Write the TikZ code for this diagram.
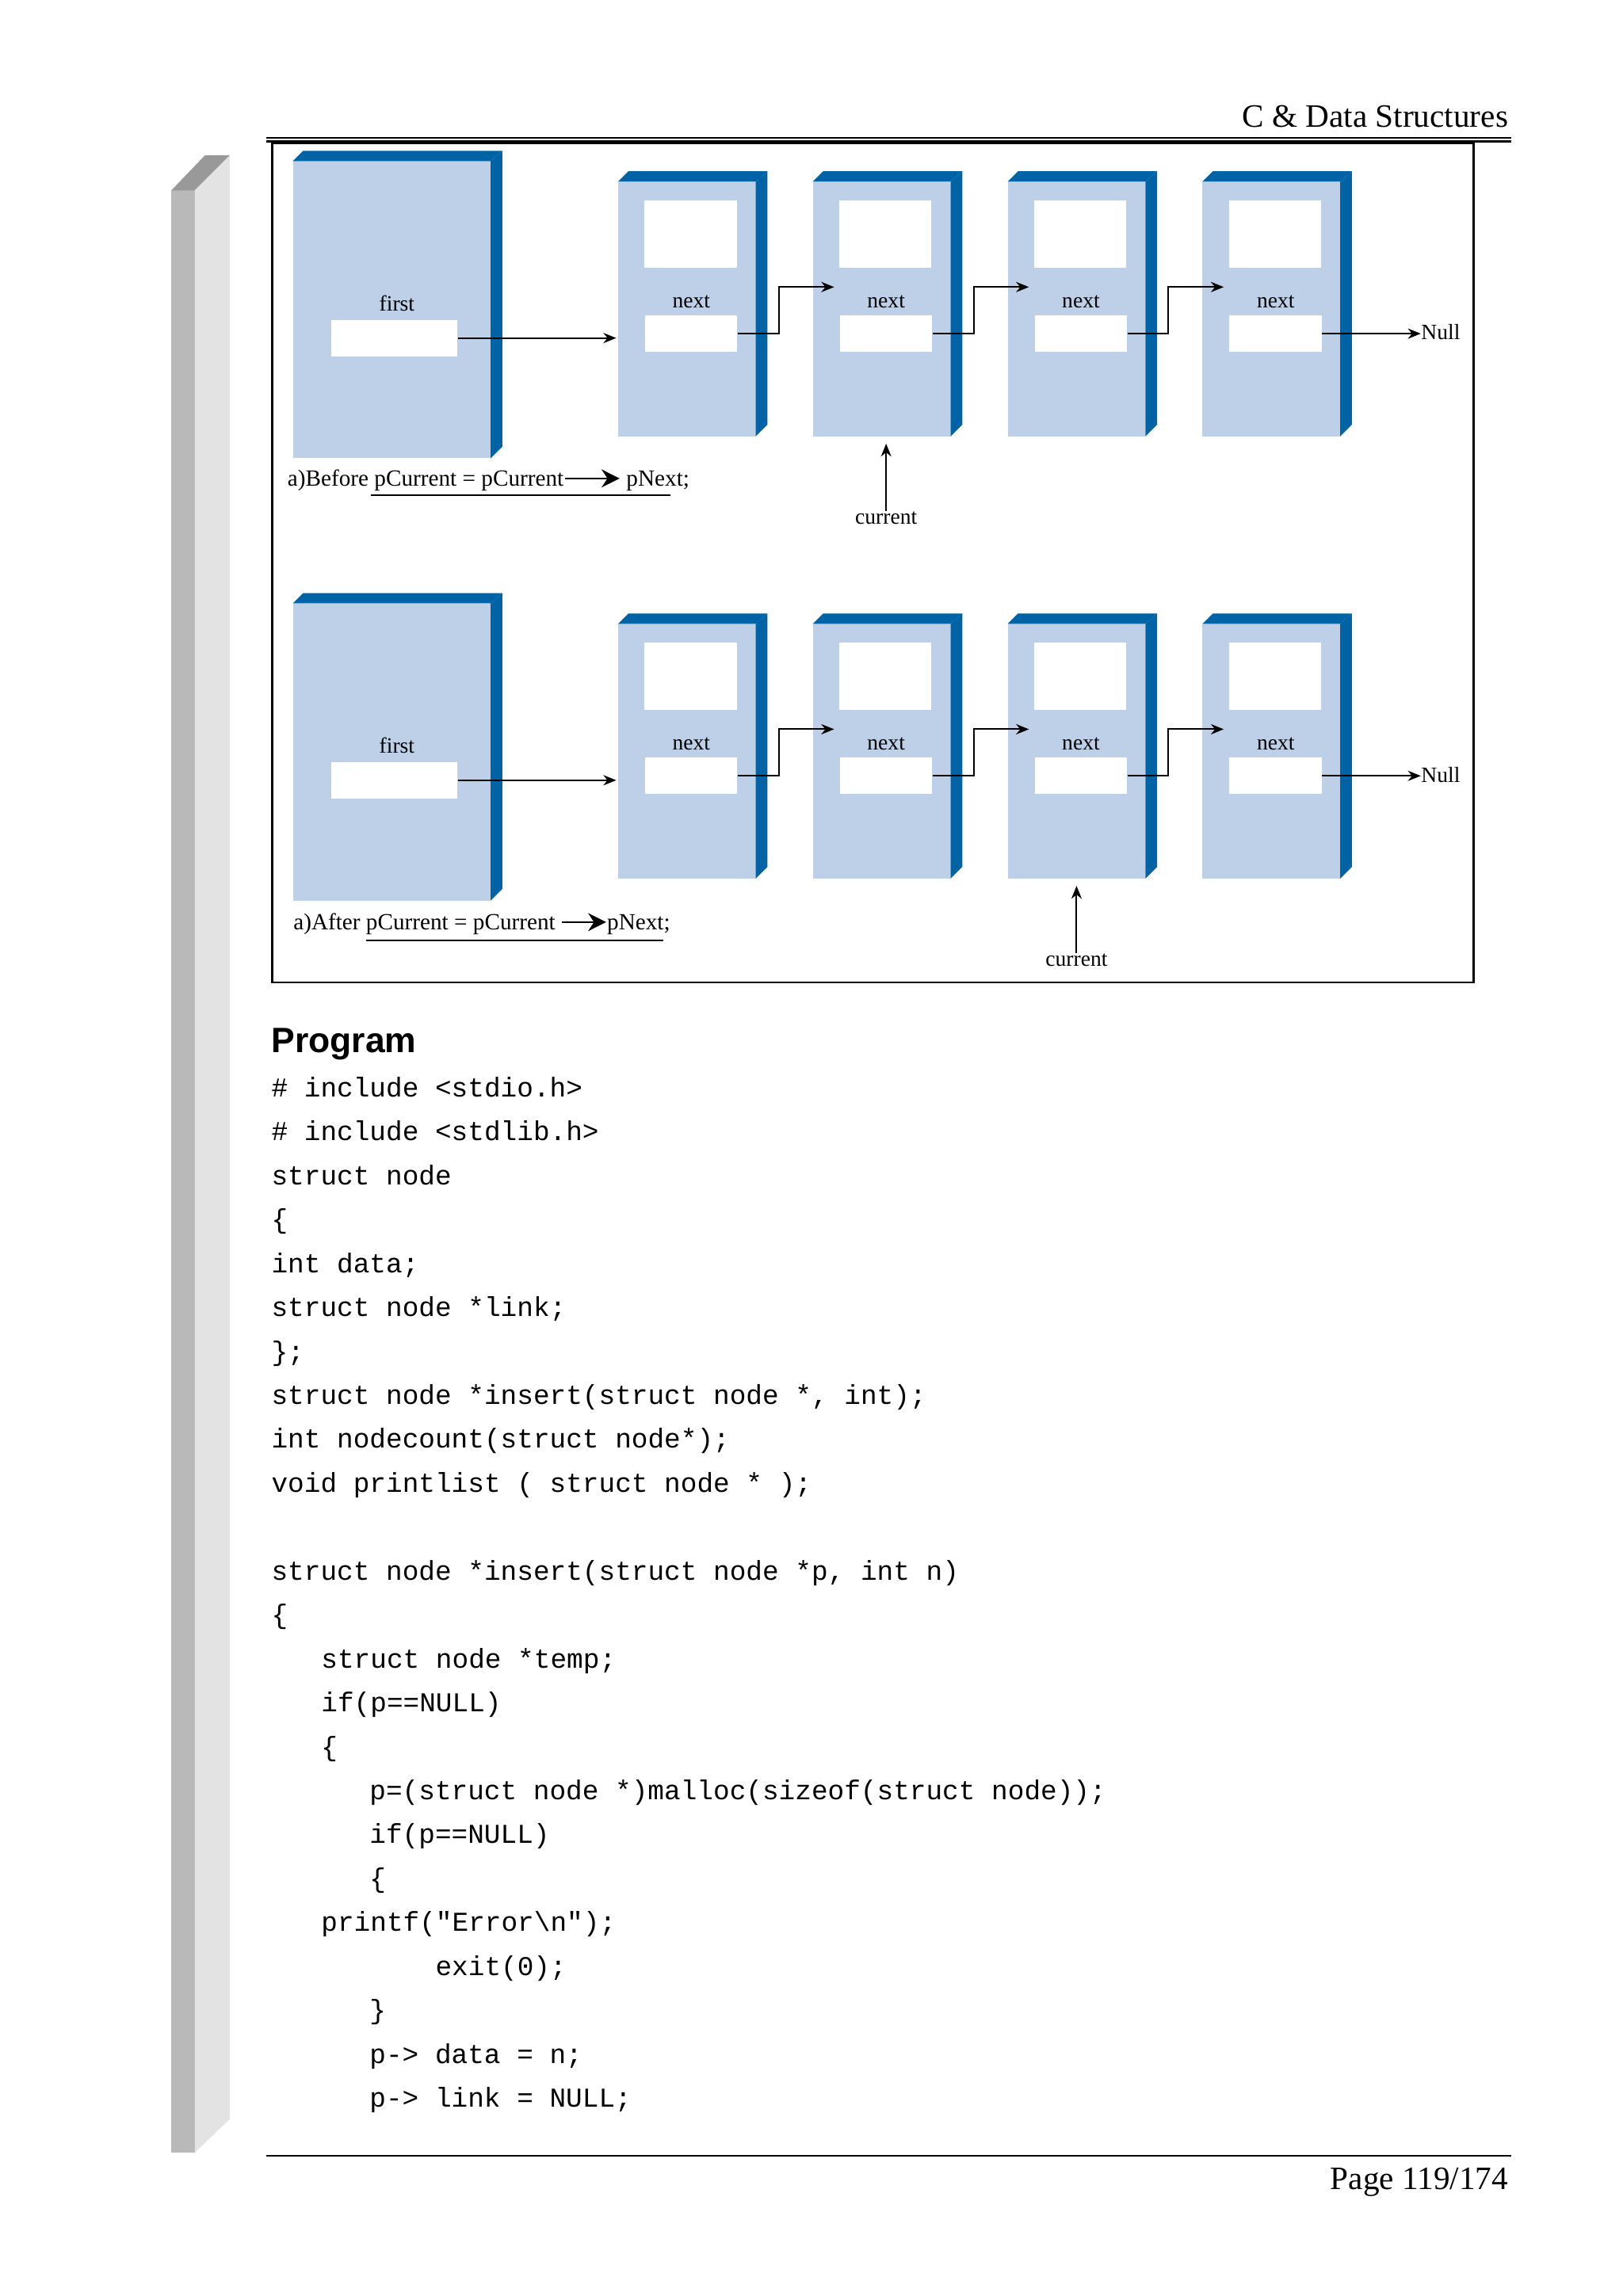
\documentclass[tikz,border=0pt]{standalone}
\usepackage{fontspec}
\setmainfont{Liberation Serif}
\setsansfont{Liberation Sans}
\setmonofont{Liberation Mono}
\usetikzlibrary{arrows.meta}
\definecolor{boxfront}{RGB}{190,208,232}
\definecolor{boxedge}{RGB}{0,99,166}
\tikzset{
  slot/.style={fill=white,draw=none,inner sep=0pt},
  lbl/.style={font=\fontsize{8.5}{9}\selectfont,inner sep=0pt},
  link/.style={-{Stealth[length=5pt,width=4pt]},line width=0.6pt},
  code/.style={anchor=base west,inner sep=0pt,font=\fontsize{10.6}{12}\ttfamily}
}
% one 3d box: #1 = left, #2 = top, #3 = right, #4 = bottom
\newcommand{\boxthree}[4]{%
  \fill[boxfront] (#1,#2) rectangle (#3,#4);
  \fill[boxedge] (#1,#2) -- ++(7,-7) -- (#3+8,#2-7) -- (#3,#2) -- cycle;
  \fill[boxedge] (#3,#2) -- (#3+8,#2-7) -- (#3+8,#4-8) -- (#3,#4) -- cycle;
}
\newcommand{\ptrarrow}[1]{\tikz[baseline=-3pt]\draw[-{Stealth[length=7pt,width=7pt]},line width=0.8pt] (0,0)--(#1,0);}
\begin{document}
\begin{tikzpicture}[x=0.02cm,y=-0.02cm]
\useasboundingbox (0,0) rectangle (1108,1568);
	%side bar
		\fill[gray!55] (117,130) -- (133,130) -- (133,1470) -- (117,1470) -- cycle;
		\fill[gray!80] (117,130) -- (140,106) -- (157,106) -- (133,130) -- cycle;
		\fill[gray!22] (133,130) -- (157,106) -- (157,1447) -- (133,1470) -- cycle;
	%header + footer
		\draw[line width=0.5pt] (182,94) -- (1032,94);
		\draw[line width=1pt] (182,96.5) -- (1032,96.5);
		\node[anchor=base east,inner sep=0pt,font=\fontsize{12.7}{14}\selectfont] (head) at (1030,87) {C \& Data Structures};
		\draw[line width=0.6pt] (182,1472) -- (1032,1472);
		\node[anchor=base east,inner sep=0pt,font=\fontsize{12.7}{14}\selectfont] (page) at (1030,1495) {Page 119/174};
	%frame
		\draw[line width=0.8pt] (186,98) rectangle (1006,671);
	%both lists
	\foreach \row/\dy/\cx in {a/0/605,b/302/735}{
		\begin{scope}[yshift=-\dy*0.02cm]
		\boxthree{200}{110}{335}{313}
		\node[slot,minimum width=86*0.02cm,minimum height=25*0.02cm,anchor=north west] (first\row) at (226,218) {};
		\node[lbl] at (271,207) {first};
		\foreach \i/\x in {1/422,2/555,3/688,4/821}{
			\boxthree{\x}{124}{\x+94}{298}
			\fill[white] (\x+18,137) rectangle (\x+81,183);
			\node[slot,minimum width=63*0.02cm,minimum height=25*0.02cm,anchor=north west] (n\row\i) at (\x+18,215) {};
			\node[lbl] at (\x+50,206) {next};
		}
		\node[lbl,anchor=west] (null\row) at (970,227) {Null};
		\node[lbl,anchor=north] (cur\row) at (\cx,349) {current};
		\end{scope}
	}
	%pointers
	\foreach \r in {a,b}{
		\draw[link] (first\r.east) -- ++(108,0);
		\foreach \i/\j in {1/2,2/3,3/4}
			\draw[link] (n\r\i.east) -- ++(28,0) |- ([xshift=-2pt,yshift=10.8pt]n\r\j.north west);
		\draw[link] (n\r4.east) -- (n\r4.east -| null\r.west);
		\draw[link] (cur\r.north) -- ++(0,-46);
	}
	%captions
		\node[lbl,anchor=base west,font=\fontsize{9}{10}\selectfont] (capa) at (196,332) {a)Before pCurrent = pCurrent\ptrarrow{0.75cm}\ pNext;};
		\draw[line width=0.6pt] (253,338) -- (458,338);
		\node[lbl,anchor=base west,font=\fontsize{9}{10}\selectfont] (capb) at (200,635) {a)After pCurrent = pCurrent \ptrarrow{0.6cm}pNext;};
		\draw[line width=0.6pt] (250,642) -- (453,642);
	%program text
		\node[anchor=base west,inner sep=0pt,font=\fontsize{13.7}{15}\sffamily\bfseries] (prog) at (185,719) {Program};
		\node[code] at (185,749) {\# include <stdio.h>};
		\node[code] at (185,779) {\# include <stdlib.h>};
		\node[code] at (185,809) {struct node};
		\node[code] at (185,839) {\{};
		\node[code] at (185,869) {int data;};
		\node[code] at (185,899) {struct node *link;};
		\node[code] at (185,929) {\};};
		\node[code] at (185,959) {struct node *insert(struct node *, int);};
		\node[code] at (185,989) {int nodecount(struct node*);};
		\node[code] at (185,1019) {void printlist ( struct node * );};
		\node[code] at (185,1079) {struct node *insert(struct node *p, int n)};
		\node[code] at (185,1109) {\{};
		\node[code] at (219,1139) {struct node *temp;};
		\node[code] at (219,1169) {if(p==NULL)};
		\node[code] at (219,1199) {\{};
		\node[code] at (252,1229) {p=(struct node *)malloc(sizeof(struct node));};
		\node[code] at (252,1259) {if(p==NULL)};
		\node[code] at (252,1289) {\{};
		\node[code] at (219,1319) {printf("Error\textbackslash n");};
		\node[code] at (297,1349) {exit(0);};
		\node[code] at (252,1379) {\}};
		\node[code] at (252,1409) {p-> data = n;};
		\node[code] at (252,1439) {p-> link = NULL;};
\end{tikzpicture}
\end{document}
